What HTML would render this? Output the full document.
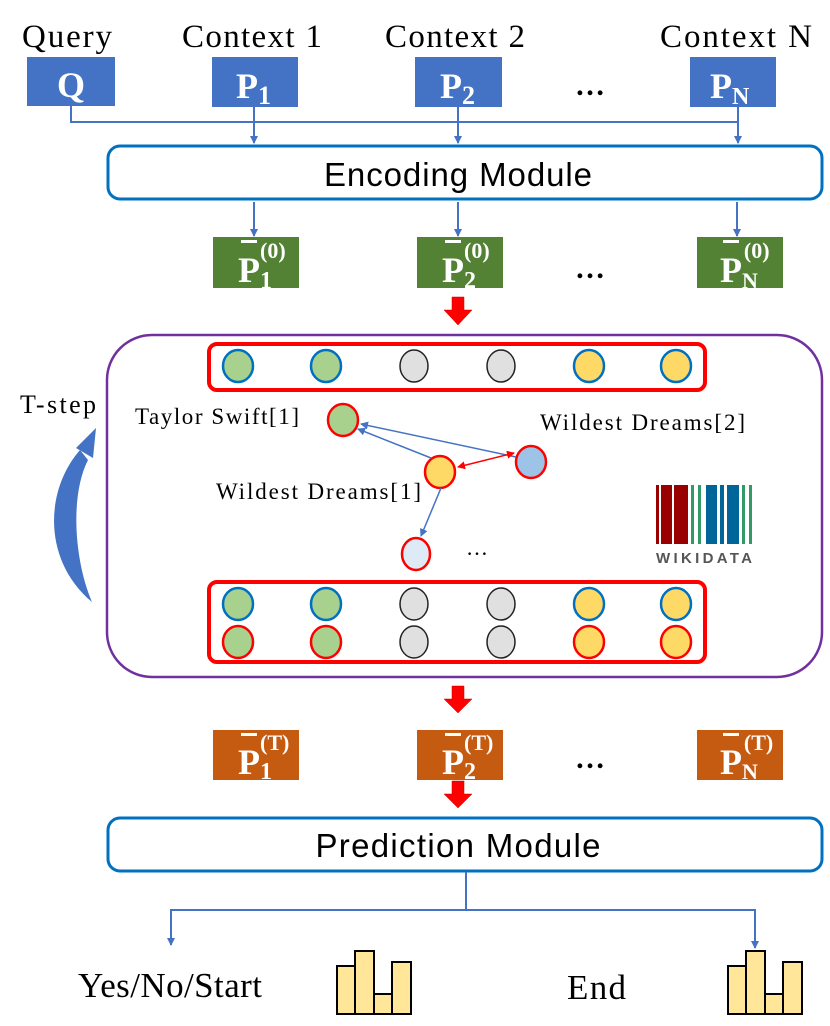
<!DOCTYPE html>
<html><head><meta charset="utf-8"><style>
body{margin:0;background:#fff}
svg{display:block}
.t{font-family:"Liberation Serif",serif;fill:#000}
.b{font-family:"Liberation Serif",serif;font-weight:bold;fill:#fff}
</style></head><body>
<svg width="830" height="1026" viewBox="0 0 830 1026" xmlns="http://www.w3.org/2000/svg">
<defs>
<marker id="ab" markerWidth="8" markerHeight="8" refX="7" refY="4" orient="auto" markerUnits="userSpaceOnUse"><path d="M0,0 L8,4 L0,8 Z" fill="#4472c4"/></marker>
<marker id="ar" markerWidth="8" markerHeight="8" refX="7" refY="4" orient="auto" markerUnits="userSpaceOnUse"><path d="M0,0 L8,4 L0,8 Z" fill="#f00"/></marker>
<marker id="ars" markerWidth="8" markerHeight="8" refX="1" refY="4" orient="auto" markerUnits="userSpaceOnUse"><path d="M8,0 L0,4 L8,8 Z" fill="#f00"/></marker>
</defs>
<text class="t" x="22" y="47" font-size="33" textLength="90">Query</text>
<text class="t" x="182" y="47" font-size="33" textLength="140">Context 1</text>
<text class="t" x="385" y="47" font-size="33" textLength="140">Context 2</text>
<text class="t" x="660" y="47" font-size="33" textLength="152">Context N</text>
<rect x="27" y="57" width="88" height="49" fill="#4472c4"/>
<rect x="212" y="57" width="86" height="50" fill="#4472c4"/>
<rect x="415" y="57" width="87" height="50" fill="#4472c4"/>
<rect x="690" y="57" width="86" height="50" fill="#4472c4"/>
<text class="b" x="71" y="97" font-size="36" text-anchor="middle">Q</text>
<text class="b" x="236" y="98" font-size="36">P<tspan font-size="26" dy="6">1</tspan></text>
<text class="b" x="440" y="98" font-size="36">P<tspan font-size="26" dy="6">2</tspan></text>
<text class="b" x="710" y="98" font-size="36">P<tspan font-size="24" dy="6">N</tspan></text>
<text class="t" x="590" y="95" font-size="30" text-anchor="middle" font-weight="bold">…</text>
<g stroke="#4472c4" stroke-width="2" fill="none">
<path d="M71,106 V122 H738"/>
<path d="M254,107 V143" marker-end="url(#ab)"/>
<path d="M458,107 V143" marker-end="url(#ab)"/>
<path d="M738,107 V143" marker-end="url(#ab)"/>
<path d="M254,202 V236" marker-end="url(#ab)"/>
<path d="M458,202 V236" marker-end="url(#ab)"/>
<path d="M737,202 V236" marker-end="url(#ab)"/>
</g>
<rect x="108" y="146" width="714" height="53" rx="12" fill="#fff" stroke="#0070c0" stroke-width="3"/>
<text x="458" y="186" font-family="Liberation Sans Narrow, Liberation Sans, sans-serif" font-size="33" text-anchor="middle" fill="#000" textLength="268">Encoding Module</text>
<rect x="213" y="237" width="86" height="51" fill="#548235"/>
<rect x="417" y="237" width="86" height="51" fill="#548235"/>
<rect x="697" y="237" width="86" height="51" fill="#548235"/>
<g class="b">
<text x="238" y="282" font-size="36">P<tspan font-size="24" dy="6">1</tspan><tspan font-size="22" dx="-12" dy="-30">(0)</tspan></text>
<text x="442" y="282" font-size="36">P<tspan font-size="24" dy="6">2</tspan><tspan font-size="22" dx="-12" dy="-30">(0)</tspan></text>
<text x="720" y="282" font-size="36">P<tspan font-size="22" dy="6">N</tspan><tspan font-size="22" dx="-14" dy="-30">(0)</tspan></text>
</g>
<g fill="#fff"><rect x="241" y="240" width="16" height="3"/><rect x="445" y="240" width="16" height="3"/><rect x="723" y="240" width="16" height="3"/></g>
<text class="t" x="590" y="278" font-size="30" text-anchor="middle" font-weight="bold">…</text>
<path d="M452,297 H464 V310 H472 L458,325 L444,310 H452 Z" fill="#f00" stroke="#c00" stroke-width="0.5"/>
<path d="M452,686 H464 V699 H472 L458,713 L444,699 H452 Z" fill="#f00" stroke="#c00" stroke-width="0.5"/>
<path d="M452,781 H464 V794 H472 L458,808 L444,794 H452 Z" fill="#f00" stroke="#c00" stroke-width="0.5"/>
<rect x="107" y="335" width="715" height="342" rx="45" fill="#fff" stroke="#7030a0" stroke-width="2.5"/>
<rect x="209" y="344" width="496" height="46" rx="8" fill="none" stroke="#f00" stroke-width="4"/>
<rect x="209" y="582" width="496" height="80" rx="8" fill="none" stroke="#f00" stroke-width="4"/>
<g stroke-width="2.5">
<ellipse cx="238" cy="366" rx="15" ry="16" fill="#a9d18e" stroke="#0070c0"/>
<ellipse cx="326" cy="366" rx="15" ry="16" fill="#a9d18e" stroke="#0070c0"/>
<ellipse cx="414" cy="366" rx="14" ry="16" fill="#e0e0e0" stroke="#222" stroke-width="1.5"/>
<ellipse cx="501" cy="366" rx="14" ry="16" fill="#e0e0e0" stroke="#222" stroke-width="1.5"/>
<ellipse cx="589" cy="366" rx="15" ry="16" fill="#ffd966" stroke="#0070c0"/>
<ellipse cx="676" cy="366" rx="15" ry="16" fill="#ffd966" stroke="#0070c0"/>
<ellipse cx="238" cy="604" rx="15" ry="16" fill="#a9d18e" stroke="#0070c0"/>
<ellipse cx="326" cy="604" rx="15" ry="16" fill="#a9d18e" stroke="#0070c0"/>
<ellipse cx="414" cy="604" rx="14" ry="16" fill="#e0e0e0" stroke="#222" stroke-width="1.5"/>
<ellipse cx="501" cy="604" rx="14" ry="16" fill="#e0e0e0" stroke="#222" stroke-width="1.5"/>
<ellipse cx="589" cy="604" rx="15" ry="16" fill="#ffd966" stroke="#0070c0"/>
<ellipse cx="676" cy="604" rx="15" ry="16" fill="#ffd966" stroke="#0070c0"/>
<ellipse cx="238" cy="642" rx="15" ry="16" fill="#a9d18e" stroke="#f00"/>
<ellipse cx="326" cy="642" rx="15" ry="16" fill="#a9d18e" stroke="#f00"/>
<ellipse cx="414" cy="642" rx="14" ry="16" fill="#e0e0e0" stroke="#222" stroke-width="1.5"/>
<ellipse cx="501" cy="642" rx="14" ry="16" fill="#e0e0e0" stroke="#222" stroke-width="1.5"/>
<ellipse cx="589" cy="642" rx="15" ry="16" fill="#ffd966" stroke="#f00"/>
<ellipse cx="676" cy="642" rx="15" ry="16" fill="#ffd966" stroke="#f00"/>
<ellipse cx="343" cy="420" rx="15" ry="16" fill="#a9d18e" stroke="#f00"/>
<ellipse cx="531" cy="462" rx="15" ry="16" fill="#9dc3e6" stroke="#f00"/>
<ellipse cx="440" cy="472" rx="15" ry="16" fill="#ffd966" stroke="#f00"/>
<ellipse cx="416" cy="554" rx="14" ry="16" fill="#deebf7" stroke="#f00"/>
</g>
<g stroke="#4472c4" stroke-width="1.5" fill="none">
<path d="M516,457 L361,424" marker-end="url(#ab)"/>
<path d="M431,458 L358,429" marker-end="url(#ab)"/>
<path d="M441,488 L421,536" marker-end="url(#ab)"/>
</g>
<path d="M458,467 L514,453" stroke="#f00" stroke-width="1.5" marker-end="url(#ar)" marker-start="url(#ars)"/>
<text class="t" x="135" y="424" font-size="23" textLength="164">Taylor Swift[1]</text>
<text class="t" x="540" y="430" font-size="23" textLength="205">Wildest Dreams[2]</text>
<text class="t" x="216" y="499" font-size="23" textLength="205">Wildest Dreams[1]</text>
<text class="t" x="466" y="555" font-size="22">…</text>
<g>
<rect x="656" y="485" width="3" height="59" fill="#990000"/>
<rect x="661" y="485" width="11" height="59" fill="#990000"/>
<rect x="674" y="485" width="14" height="59" fill="#990000"/>
<rect x="691" y="485" width="3" height="59" fill="#339966"/>
<rect x="698" y="485" width="3" height="59" fill="#339966"/>
<rect x="706" y="485" width="11" height="59" fill="#006699"/>
<rect x="720" y="485" width="4" height="59" fill="#006699"/>
<rect x="727" y="485" width="12" height="59" fill="#006699"/>
<rect x="742" y="485" width="3" height="59" fill="#339966"/>
<rect x="749" y="485" width="3" height="59" fill="#339966"/>
<text x="704" y="563" font-family="Liberation Sans,sans-serif" font-weight="bold" font-size="15" fill="#555" text-anchor="middle" textLength="96">WIKIDATA</text>
</g>
<text class="t" x="20" y="413" font-size="26" textLength="76">T-step</text>
<path d="M80,450 C45,490 42,560 92,602 C74,560 70,495 88,460 Z" fill="#4472c4"/>
<path d="M76,448 L96,428 L93,458 Z" fill="#4472c4"/>
<rect x="213" y="730" width="86" height="50" fill="#c55a11"/>
<rect x="417" y="730" width="86" height="50" fill="#c55a11"/>
<rect x="697" y="730" width="86" height="50" fill="#c55a11"/>
<g class="b">
<text x="238" y="774" font-size="36">P<tspan font-size="24" dy="5">1</tspan><tspan font-size="22" dx="-12" dy="-29">(T)</tspan></text>
<text x="442" y="774" font-size="36">P<tspan font-size="24" dy="5">2</tspan><tspan font-size="22" dx="-12" dy="-29">(T)</tspan></text>
<text x="720" y="774" font-size="36">P<tspan font-size="22" dy="5">N</tspan><tspan font-size="22" dx="-14" dy="-29">(T)</tspan></text>
</g>
<g fill="#fff"><rect x="241" y="733" width="16" height="3"/><rect x="445" y="733" width="16" height="3"/><rect x="723" y="733" width="16" height="3"/></g>
<text class="t" x="590" y="768" font-size="30" text-anchor="middle" font-weight="bold">…</text>
<rect x="108" y="818" width="714" height="53" rx="12" fill="#fff" stroke="#0070c0" stroke-width="3"/>
<text x="458" y="857" font-family="Liberation Sans Narrow, Liberation Sans, sans-serif" font-size="33" text-anchor="middle" fill="#000" textLength="285">Prediction Module</text>
<g stroke="#4472c4" stroke-width="2" fill="none">
<path d="M466,872 V910"/>
<path d="M466,910 H171 V945" marker-end="url(#ab)"/>
<path d="M466,910 H755 V948" marker-end="url(#ab)"/>
</g>
<text class="t" x="78" y="997" font-size="35" textLength="184">Yes/No/Start</text>
<text class="t" x="567" y="999" font-size="35" textLength="59">End</text>
<g fill="#ffe699" stroke="#000" stroke-width="2">
<rect x="337" y="966" width="18" height="48"/><rect x="355" y="951" width="19" height="63"/><rect x="374" y="994" width="18" height="20"/><rect x="392" y="962" width="19" height="52"/>
<rect x="728" y="966" width="18" height="48"/><rect x="746" y="951" width="19" height="63"/><rect x="765" y="994" width="18" height="20"/><rect x="783" y="962" width="19" height="52"/>
</g>
</svg>
</body></html>
